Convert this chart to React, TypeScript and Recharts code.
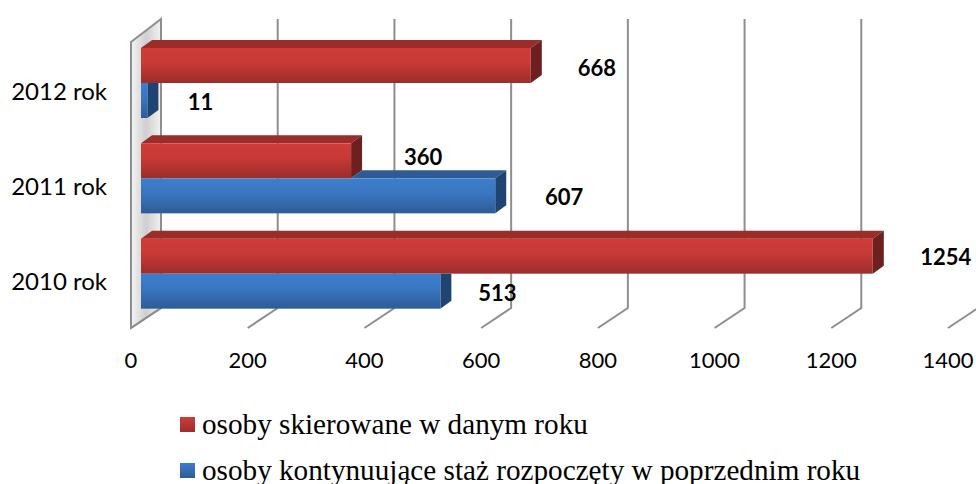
import { Bar, BarChart, CartesianGrid, LabelList, Legend, XAxis, YAxis } from "recharts";

const YEARS = ["2012 rok", "2011 rok", "2010 rok"];
const REFERRED = [668, 360, 1254];
const CONTINUING = [11, 607, 513];
const X_TICKS = [0, 200, 400, 600, 800, 1000, 1200, 1400];
const REFERRED_NAME = "osoby skierowane w danym roku";
const CONTINUING_NAME = "osoby kontynuujące staż rozpoczęty w poprzednim roku";

// hand placed in the original, distance from bar end to label centre
const REFERRED_LABEL_GAP = [66, 72, 73];
const REFERRED_LABEL_RISE = [-3, 3, -1];
const CONTINUING_LABEL_GAP = [53, 69, 57];
const CONTINUING_LABEL_RISE = [-2, -2, -2];

const DEPTH_X = 11;
const DEPTH_Y = 8;
const GRID = "#8e8e8e";
const LABEL_FONT = "Lato, sans-serif";

const RED = { top: "#9a2c2a", side: "#6c201f", grad: "url(#redFront)" };
const BLUE = { top: "#2e5b94", side: "#1f4472", grad: "url(#blueFront)" };

const points = YEARS.map((year, i) => ({
  year,
  referred: REFERRED[i],
  continuing: CONTINUING[i],
}));

const poly = (pts: number[][]) => pts.map((p) => p.join(",")).join(" ");

function RedBar({ x, y, width, height }: any) {
  return (
    <g>
      <polygon
        fill={RED.top}
        points={poly([[x, y], [x + width, y], [x + width + DEPTH_X, y - DEPTH_Y], [x + DEPTH_X, y - DEPTH_Y]])}
      />
      <polygon
        fill={RED.side}
        points={poly([
          [x + width, y],
          [x + width + DEPTH_X, y - DEPTH_Y],
          [x + width + DEPTH_X, y + height - DEPTH_Y],
          [x + width, y + height],
        ])}
      />
      <rect x={x} y={y} width={width} height={height} fill={RED.grad} />
    </g>
  );
}

// the red bar sits in front of this one, so only the part of the top face past it shows
function BlueBar({ x, y, width, height, payload }: any) {
  const redW = (width / payload.continuing) * payload.referred;
  const hidden = redW >= width;
  return (
    <g>
      {!hidden && (
        <polygon
          fill={BLUE.top}
          points={poly([
            [x + redW, y],
            [x + width, y],
            [x + width + DEPTH_X, y - DEPTH_Y],
            [x + redW + DEPTH_X, y - DEPTH_Y],
          ])}
        />
      )}
      <polygon
        fill={BLUE.side}
        points={poly([
          [x + width, y],
          [x + width + DEPTH_X, hidden ? y : y - DEPTH_Y],
          [x + width + DEPTH_X, y + height - DEPTH_Y],
          [x + width, y + height],
        ])}
      />
      <rect x={x} y={y} width={width} height={height} fill={BLUE.grad} />
    </g>
  );
}

function GridLine({ x1, y1, y2, index }: any) {
  const front = x1 - 10;
  const back = x1 + 20;
  const top = y1 - 16;
  const floor = y2 - 13;
  const bottom = y2 + 7;
  return (
    <g>
      {index === 0 && (
        <polygon
          points={poly([[front, top + 23], [back, top], [back, floor], [front, bottom]])}
          fill="url(#wall)"
          stroke={GRID}
          strokeWidth={2}
        />
      )}
      <polyline
        points={poly([[back, top], [back, floor], [front, bottom]])}
        fill="none"
        stroke={GRID}
        strokeWidth={2}
      />
    </g>
  );
}

const barLabel = (gaps: number[], rises: number[]) =>
  function BarLabel({ x, y, width, height, value, index }: any) {
    return (
      <text
        x={x + width + gaps[index]}
        y={y + height / 2 + 2 - rises[index]}
        textAnchor="middle"
        dominantBaseline="middle"
        fontFamily={LABEL_FONT}
        fontWeight={700}
        fontSize={22}
        fill="#000"
      >
        {value}
      </text>
    );
  };

function XTick({ x, y, payload }: any) {
  return (
    <text x={x - 10} y={y + 1} textAnchor="middle" fontFamily={LABEL_FONT} fontSize={22} fill="#000">
      {payload.value}
    </text>
  );
}

function YTick({ y, payload }: any) {
  return (
    <text x={107} y={y + 17} textAnchor="end" fontFamily={LABEL_FONT} fontSize={24} fill="#000">
      {payload.value}
    </text>
  );
}

function LegendRows() {
  const row = (name: string, from: string, to: string, gap: number) => (
    <div style={{ display: "flex", alignItems: "center", height: 24, marginBottom: gap }}>
      <span
        style={{
          width: 15,
          height: 15,
          marginRight: 7,
          background: `linear-gradient(${from}, ${to})`,
        }}
      />
      <span>{name}</span>
    </div>
  );
  return (
    <div
      style={{
        fontFamily: "'Liberation Serif', serif",
        fontSize: 29.2,
        lineHeight: "24px",
        color: "#000",
        whiteSpace: "nowrap",
      }}
    >
      {row(REFERRED_NAME, "#cf3b38", "#9c2d2b", 22)}
      {row(CONTINUING_NAME, "#3d7dcb", "#2d5c97", 0)}
    </div>
  );
}

export default function App() {
  return (
    <div style={{ position: "absolute", left: 0, top: 0 }}>
      <BarChart
        width={976}
        height={484}
        data={points}
        layout="vertical"
        barCategoryGap={12.75}
        barGap={0}
        margin={{ top: 35, right: 18, bottom: 33, left: 0 }}
      >
        <defs>
          <linearGradient id="redFront" x1="0" y1="0" x2="0" y2="1">
            <stop offset="0" stopColor="#cf3b38" />
            <stop offset="0.4" stopColor="#c83a37" />
            <stop offset="1" stopColor="#9b2d2b" />
          </linearGradient>
          <linearGradient id="blueFront" x1="0" y1="0" x2="0" y2="1">
            <stop offset="0" stopColor="#3d7dcb" />
            <stop offset="0.4" stopColor="#3a77c2" />
            <stop offset="1" stopColor="#2d5c97" />
          </linearGradient>
          <linearGradient id="wall" x1="0" y1="0" x2="1" y2="0">
            <stop offset="0" stopColor="#f4f4f4" />
            <stop offset="0.5" stopColor="#cfcfcf" />
            <stop offset="1" stopColor="#f2f2f2" />
          </linearGradient>
        </defs>
        <CartesianGrid horizontal={false} vertical={GridLine as any} />
        <XAxis
          type="number"
          domain={[0, 1400]}
          ticks={X_TICKS}
          axisLine={false}
          tickLine={false}
          height={60}
          tick={XTick as any}
          tickMargin={40}
          interval={0}
        />
        <YAxis
          type="category"
          dataKey="year"
          width={141}
          axisLine={false}
          tickLine={false}
          tick={YTick as any}
          interval={0}
        />
        <Legend
          content={<LegendRows />}
          wrapperStyle={{ left: 180, top: 412, width: 790, height: 70 }}
        />
        <Bar
          dataKey="referred"
          name={REFERRED_NAME}
          barSize={35}
          shape={RedBar as any}
          isAnimationActive={false}
        >
          <LabelList dataKey="referred" content={barLabel(REFERRED_LABEL_GAP, REFERRED_LABEL_RISE) as any} />
        </Bar>
        <Bar
          dataKey="continuing"
          name={CONTINUING_NAME}
          barSize={35}
          shape={BlueBar as any}
          isAnimationActive={false}
        >
          <LabelList dataKey="continuing" content={barLabel(CONTINUING_LABEL_GAP, CONTINUING_LABEL_RISE) as any} />
        </Bar>
      </BarChart>
    </div>
  );
}
